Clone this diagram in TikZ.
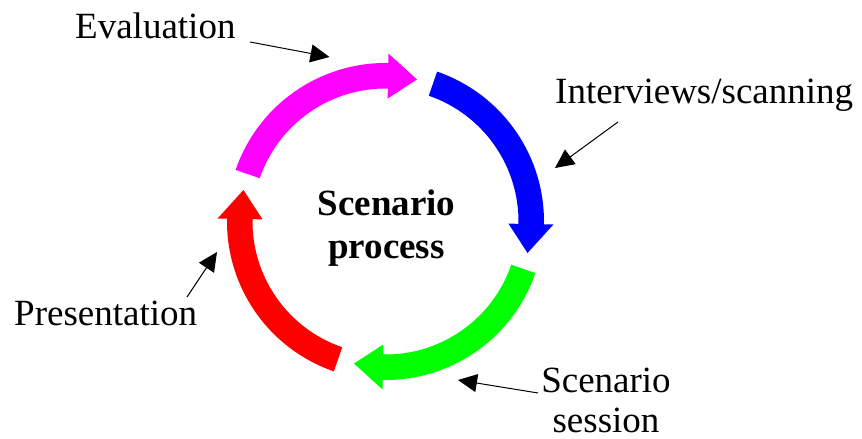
\documentclass[tikz,border=0pt]{standalone}
\usepackage{fontspec}
\setmainfont{Liberation Serif}
\usetikzlibrary{arrows.meta}

\definecolor{stepmagenta}{RGB}{255,0,255}
\definecolor{stepblue}{RGB}{0,0,255}
\definecolor{stepgreen}{RGB}{0,255,0}
\definecolor{stepred}{RGB}{255,0,0}

\tikzset{
  tag/.style={inner sep=0pt, font=\fontsize{37}{40}\selectfont},
  pointer/.style={draw=black, line width=1pt, -{Triangle[length=19pt,width=18pt]}},
}

% One curved block arrow of the cycle, running clockwise from its tail angle
\newcommand\cyclearrow[2]{%
  \pgfmathsetmacro\tailang{#2}%
  \pgfmathsetmacro\headang{#2-72}%
  \pgfmathsetmacro\tipang{#2-83.5}%
  \fill[#1] (\tailang:158.5pt)
    arc[start angle=\tailang, end angle=\headang, radius=158.5pt]
    -- (\headang:168pt) -- (\tipang:145.5pt) -- (\headang:123pt) -- (\headang:133pt)
    arc[start angle=\headang, end angle=\tailang, radius=133pt] -- cycle;
}

\begin{document}
\begin{tikzpicture}[x=1pt, y=1pt]
  \useasboundingbox (0,0) rectangle (862,439);

  % the four-step cycle
  \begin{scope}[shift={(385.5,217.5)}]
    \cyclearrow{stepmagenta}{161}
    \cyclearrow{stepblue}{71}
    \cyclearrow{stepgreen}{-19}
    \cyclearrow{stepred}{-109}
  \end{scope}

  % centre title
  \node[inner sep=0pt, align=center, font=\fontsize{37}{43}\selectfont\bfseries]
    (title) at (386.5,210.7) {Scenario\\process};

  % step labels
  \node[tag, anchor=base west] (eval) at (75,400) {Evaluation};
  \node[tag, anchor=base west] (interv) at (555,335) {Interviews/scanning};
  \node[tag, anchor=base west] (present) at (14,113) {Presentation};
  \node[tag, align=center] (session) at (606,38.25) {Scenario\\session};

  % pointer ends
  \coordinate (evalfrom) at (250,397);
  \coordinate (evalto) at (329.5,382);
  \coordinate (intervfrom) at (618,317);
  \coordinate (intervto) at (555,271);
  \coordinate (presentfrom) at (187,142);
  \coordinate (presentto) at (217,187);
  \coordinate (sessionfrom) at (538,46);
  \coordinate (sessionto) at (458,59);

  \draw[pointer] (evalfrom) -- (evalto);
  \draw[pointer] (intervfrom) -- (intervto);
  \draw[pointer] (presentfrom) -- (presentto);
  \draw[pointer] (sessionfrom) -- (sessionto);
\end{tikzpicture}
\end{document}
